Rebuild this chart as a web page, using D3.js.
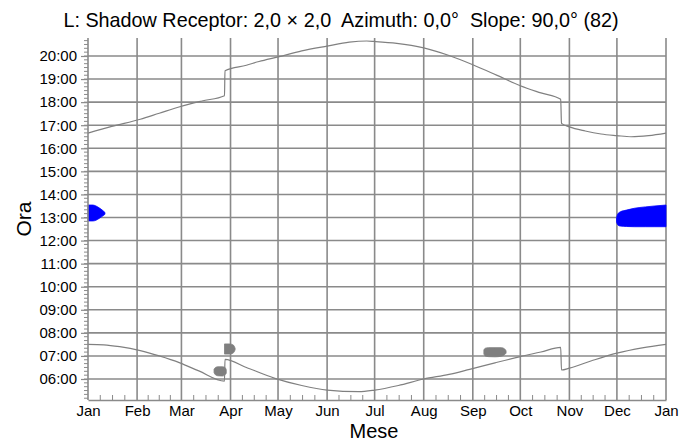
<!DOCTYPE html>
<html>
<head>
<meta charset="utf-8">
<script src="https://cdn.jsdelivr.net/npm/d3@7"></script>
<style>
  body { margin: 0; background: #fff; }
  text { font-family: "Liberation Sans", Arial, sans-serif; fill: #000; }
</style>
</head>
<body>
<svg id="chart" width="695" height="441"></svg>
<script>
const titleText = "L: Shadow Receptor: 2,0 \u00d7 2,0  Azimuth: 0,0\u00b0  Slope: 90,0\u00b0 (82)";
const monthLabels = ["Jan", "Feb", "Mar", "Apr", "May", "Jun", "Jul", "Aug", "Sep", "Oct", "Nov", "Dec", "Jan"];
const monthStartDays = [0, 31, 59, 90, 120, 151, 181, 212, 243, 273, 304, 334, 365];
const hourTicks = [6, 7, 8, 9, 10, 11, 12, 13, 14, 15, 16, 17, 18, 19, 20];

// sunset, [day of year, hour]
const sunset = [
  [0, 16.66], [15, 16.95], [33, 17.26], [45, 17.52], [58, 17.8], [72, 18.05], [86.2, 18.28],
  [86.5, 19.36], [100, 19.6], [108, 19.76], [120, 19.96], [135, 20.22], [151, 20.43],
  [165, 20.6], [176, 20.65], [181, 20.63], [195, 20.55], [212, 20.35], [228, 20.02],
  [243, 19.62], [258, 19.17], [273, 18.71], [286, 18.4], [298.5, 18.12], [299, 17.08],
  [304, 16.93], [314, 16.75], [324, 16.62], [334, 16.55], [343, 16.5], [354, 16.55], [365, 16.66]
];
// sunrise, [day of year, hour]
const sunrise = [
  [0, 7.5], [10, 7.48], [20, 7.4], [33, 7.23], [45, 7.0], [58, 6.7], [70, 6.35], [86.2, 5.91],
  [86.5, 6.85], [100, 6.5], [118, 6.03], [135, 5.72], [151, 5.52], [171, 5.45], [181, 5.52],
  [196, 5.72], [212, 6.0], [228, 6.2], [241, 6.42], [257, 6.7], [273, 6.97], [286, 7.17],
  [298.5, 7.37], [299, 6.39], [304, 6.47], [318, 6.79], [334, 7.12], [350, 7.35], [365, 7.5]
];

// shadow periods, [day, start hour, end hour]
const shadowJan = [
  [0, 12.85, 13.54], [3, 12.85, 13.54], [5, 12.88, 13.5], [7, 12.96, 13.42],
  [9, 13.05, 13.32], [10.7, 13.14, 13.22]
];
const shadowDec = [
  [333.8, 12.8, 13.0], [334.5, 12.68, 13.15], [336, 12.63, 13.24], [340, 12.61, 13.32],
  [345, 12.6, 13.4], [352, 12.6, 13.46], [358, 12.6, 13.5], [365, 12.6, 13.54]
];
const shadowMar = [
  [79.6, 6.28, 6.42], [80.5, 6.18, 6.5], [82, 6.14, 6.53], [85, 6.13, 6.53],
  [86.5, 6.18, 6.5], [87.3, 6.25, 6.4]
];
const shadowApr = [
  [86.2, 7.08, 7.52], [89.5, 7.08, 7.52], [91.5, 7.12, 7.48], [92.5, 7.2, 7.4], [92.9, 7.27, 7.33]
];
const shadowSep = [
  [250, 7.08, 7.26], [250.8, 7.0, 7.33], [253, 6.97, 7.36], [257, 6.96, 7.36],
  [261, 6.99, 7.36], [263, 7.05, 7.31], [264, 7.12, 7.22]
];

const svg = d3.select("#chart");
const x = d3.scaleLinear().domain([0, 365]).range([88, 666]);
const y = d3.scaleLinear().domain([5.09, 20.78]).range([400, 38]);
const gridColor = "#8a8a8a";

// grid
svg.append("g").selectAll("line").data(hourTicks).join("line")
  .attr("x1", x(0)).attr("x2", x(365))
  .attr("y1", d => y(d)).attr("y2", d => y(d))
  .attr("stroke", gridColor).attr("stroke-width", 1.6);
svg.append("g").selectAll("line").data(monthStartDays.slice(1)).join("line")
  .attr("x1", d => x(d)).attr("x2", d => x(d))
  .attr("y1", y.range()[1]).attr("y2", y.range()[0])
  .attr("stroke", gridColor).attr("stroke-width", 1.6);

// shadow areas
function drawShadow(data, color) {
  const area = d3.area()
    .x(d => x(d[0]))
    .y0(d => y(d[1]))
    .y1(d => y(d[2]))
    .curve(d3.curveMonotoneX);
  svg.append("path").datum(data)
    .attr("d", area)
    .attr("fill", color)
    .attr("stroke", color)
    .attr("stroke-width", 0.8);
}
drawShadow(shadowJan, "#0000ff");
drawShadow(shadowDec, "#0000ff");
drawShadow(shadowMar, "#7f7f7f");
drawShadow(shadowApr, "#7f7f7f");
drawShadow(shadowSep, "#7f7f7f");

// sun curves
const line = d3.line().x(d => x(d[0])).y(d => y(d[1])).curve(d3.curveMonotoneX);
[sunset, sunrise].forEach(s => {
  svg.append("path").datum(s)
    .attr("d", line)
    .attr("fill", "none")
    .attr("stroke", "#808080")
    .attr("stroke-width", 1.2);
});

// y axis
const yAxis = d3.axisLeft(y).tickValues(hourTicks)
  .tickFormat(d => d3.format("02d")(d) + ":00").tickSize(7).tickPadding(4);
const gy = svg.append("g").attr("transform", `translate(${x(0)},0)`).call(yAxis);
const minorHours = d3.range(Math.ceil(5.09 * 6), Math.floor(20.78 * 6) + 1).map(d => d / 6);
svg.append("g").selectAll("line").data(minorHours).join("line")
  .attr("x1", x(0) - 4).attr("x2", x(0))
  .attr("y1", d => y(d)).attr("y2", d => y(d))
  .attr("stroke", gridColor);

// x axis
const xAxis = d3.axisBottom(x).tickValues(monthStartDays)
  .tickFormat((d, i) => monthLabels[i]).tickSize(0).tickPadding(5);
const gx = svg.append("g").attr("transform", `translate(0,${y.range()[0]})`).call(xAxis);
const minorDays = [];
for (let m = 0; m < 12; m++) {
  const a = monthStartDays[m], b = monthStartDays[m + 1];
  for (let k = 1; k < 4; k++) minorDays.push(a + (b - a) * k / 4);
}
svg.append("g").selectAll("line").data(minorDays).join("line")
  .attr("x1", d => x(d)).attr("x2", d => x(d))
  .attr("y1", y.range()[0] - 5).attr("y2", y.range()[0])
  .attr("stroke", gridColor);

[gx, gy].forEach(g => {
  g.selectAll(".domain").attr("stroke", gridColor).attr("stroke-width", 1.6);
  g.selectAll(".tick line").attr("stroke", gridColor).attr("stroke-width", 1.2);
  g.selectAll("text").style("font-size", "15px").style("font-family", "Liberation Sans, Arial, sans-serif").attr("fill", "#000");
});
gy.select(".domain").attr("d", `M0,${y.range()[0]}V${y.range()[1]}`);

// titles
svg.append("text").attr("x", 341).attr("y", 27).attr("text-anchor", "middle")
  .style("font-size", "19.8px").style("white-space", "pre").text(titleText);
svg.append("text").attr("x", 374).attr("y", 438).attr("text-anchor", "middle")
  .style("font-size", "20px").text("Mese");
svg.append("text").attr("transform", "translate(31,219) rotate(-90)").attr("text-anchor", "middle")
  .style("font-size", "21px").text("Ora");
</script>
</body>
</html>
